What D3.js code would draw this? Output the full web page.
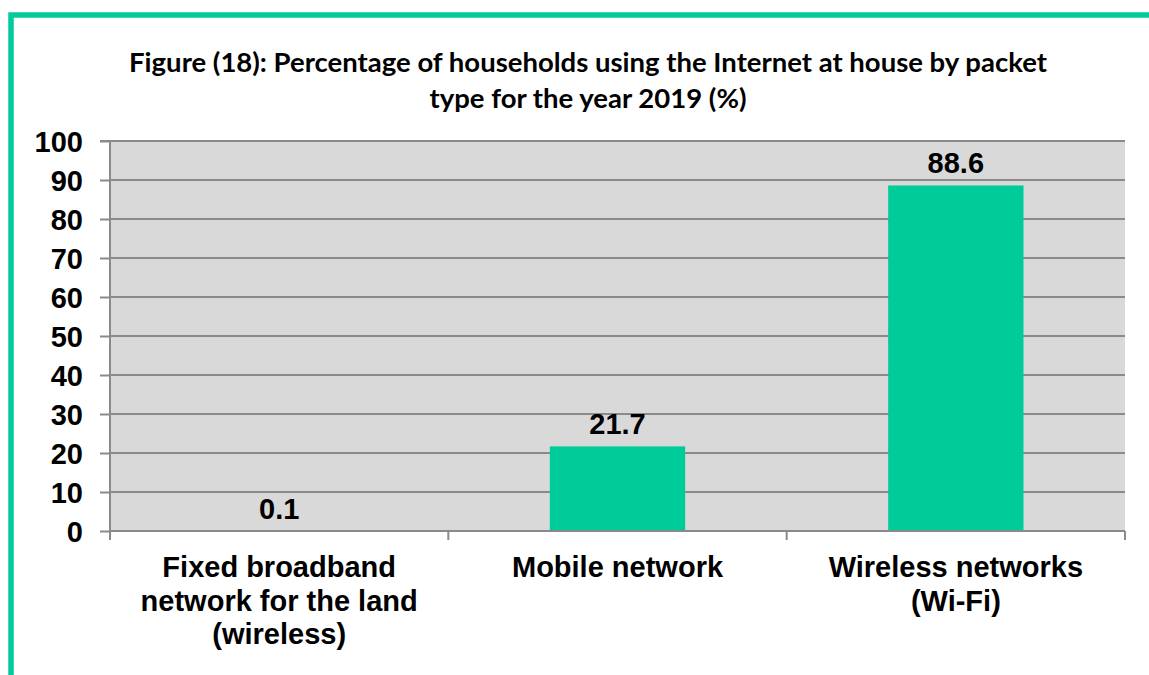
<!DOCTYPE html>
<html>
<head>
<meta charset="utf-8">
<script src="https://cdn.jsdelivr.net/npm/d3@7"></script>
<style>
html,body{margin:0;padding:0;background:#fff;}
svg{display:block;}
</style>
</head>
<body>
<svg id="chart" width="1149" height="675"></svg>
<script>
const categories = [
  ["Fixed broadband", "network for the land", "(wireless)"],
  ["Mobile network"],
  ["Wireless networks", "(Wi-Fi)"]
];
const categoryKeys = ["Fixed broadband network for the land (wireless)", "Mobile network", "Wireless networks (Wi-Fi)"];
const values = [0.1, 21.7, 88.6];
const valueLabels = ["0.1", "21.7", "88.6"];
const yTicks = [0, 10, 20, 30, 40, 50, 60, 70, 80, 90, 100];
const titleLines = [
  "Figure (18): Percentage of households using the Internet at house by packet",
  "type for the year 2019 (%)"
];

const green = "#00cc99";
const svg = d3.select("#chart");

// outer frame
svg.append("rect")
  .attr("x", 11).attr("y", 15).attr("width", 1200).attr("height", 700)
  .attr("fill", "none").attr("stroke", green).attr("stroke-width", 5.5);

const L = 110, R = 1125, T = 141, B = 531;

const x = d3.scaleBand().domain(categoryKeys).range([L, R]).paddingInner(0.6).paddingOuter(0.3);
const xb = d3.scaleBand().domain(categoryKeys).range([L, R]);
const y = d3.scaleLinear().domain([0, 100]).range([B, T]);

// plot background
svg.append("rect").attr("x", L).attr("y", T).attr("width", R - L).attr("height", B - T).attr("fill", "#d9d9d9");

// gridlines
svg.append("g").selectAll("line").data(yTicks.filter(d => d > 0)).join("line")
  .attr("x1", L).attr("x2", R)
  .attr("y1", d => y(d)).attr("y2", d => y(d))
  .attr("stroke", "#8a8a8a").attr("stroke-width", 2);

// bars
svg.append("g").selectAll("rect").data(values).join("rect")
  .attr("x", (d, i) => x(categoryKeys[i]))
  .attr("width", x.bandwidth())
  .attr("y", d => y(d))
  .attr("height", d => B - y(d))
  .attr("fill", green);

// y axis
const yAxis = d3.axisLeft(y).tickValues(yTicks).tickSize(10).tickPadding(17).tickFormat(d3.format("d"));
const gy = svg.append("g").attr("transform", `translate(${L},0)`).call(yAxis);
gy.select(".domain").attr("stroke", "#8a8a8a").attr("stroke-width", 2).attr("d", `M-10,${T}H0V${B}`);
gy.selectAll(".tick line").attr("stroke", "#8a8a8a").attr("stroke-width", 2);
gy.selectAll(".tick text")
  .attr("font-family", "'Liberation Sans', Arial, sans-serif")
  .attr("font-weight", "bold").attr("font-size", 29).attr("fill", "#000")
  .attr("dy", "0.36em");

// x axis line and boundary ticks
const boundaries = categoryKeys.map(k => xb(k)).concat([R]);
svg.append("line").attr("x1", L).attr("x2", R).attr("y1", B).attr("y2", B)
  .attr("stroke", "#8a8a8a").attr("stroke-width", 2);
svg.append("g").selectAll("line").data(boundaries).join("line")
  .attr("x1", d => d).attr("x2", d => d).attr("y1", B).attr("y2", B + 9)
  .attr("stroke", "#8a8a8a").attr("stroke-width", 2);

// category labels
const cat = svg.append("g").selectAll("text").data(categories).join("text")
  .attr("text-anchor", "middle")
  .attr("font-family", "'Liberation Sans', Arial, sans-serif")
  .attr("font-weight", "bold").attr("font-size", 29).attr("fill", "#000")
  .attr("transform", (d, i) => `translate(${x(categoryKeys[i]) + x.bandwidth() / 2},577)`);
cat.selectAll("tspan").data(d => d).join("tspan")
  .attr("x", 0).attr("y", (d, i) => i * 33.5).text(d => d);

// value labels
svg.append("g").selectAll("text").data(values).join("text")
  .attr("x", (d, i) => x(categoryKeys[i]) + x.bandwidth() / 2)
  .attr("y", d => y(d) - 12)
  .attr("text-anchor", "middle")
  .attr("font-family", "'Liberation Sans', Arial, sans-serif")
  .attr("font-weight", "bold").attr("font-size", 29).attr("fill", "#000")
  .text((d, i) => valueLabels[i]);

// title
svg.append("g").selectAll("text").data(titleLines).join("text")
  .attr("x", 588).attr("y", (d, i) => 72 + i * 36)
  .attr("text-anchor", "middle")
  .attr("font-family", "Lato, Carlito, Calibri, sans-serif")
  .attr("font-weight", "bold").attr("font-size", 27.5).attr("fill", "#000")
  .text(d => d);
</script>
</body>
</html>
